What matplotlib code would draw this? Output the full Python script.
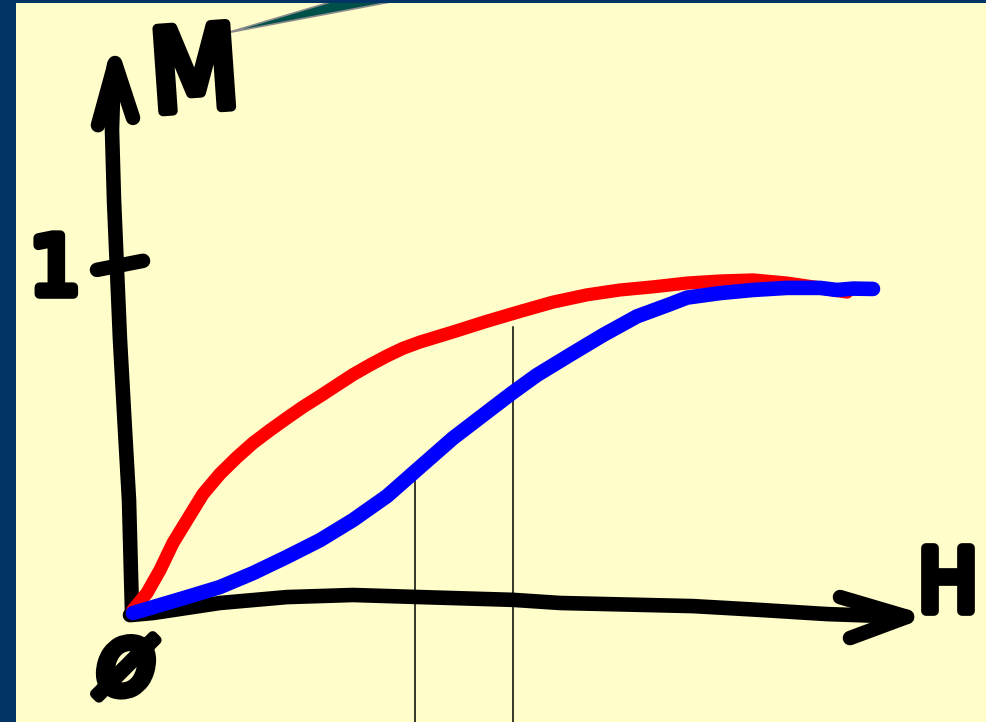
import matplotlib
matplotlib.use("Agg")
import matplotlib.pyplot as plt
import matplotlib.patheffects as pe
from matplotlib.patches import Polygon

# ---- data (H, M units; origin at 0, M = 1 at the tick) ----
red_H = [0.03, 0.17, 0.30, 0.43, 0.57, 0.73, 0.90, 1.07, 1.23, 1.40, 1.57, 1.73, 1.90, 2.07, 2.23, 2.40,
         2.57, 2.73, 2.90, 3.23, 3.57, 3.90, 4.23, 4.57, 4.90, 5.23, 5.57, 5.90, 6.23, 6.57, 6.90, 7.17]
red_M = [0.006, 0.055, 0.121, 0.199, 0.265, 0.340, 0.398, 0.446, 0.487, 0.524, 0.559, 0.591, 0.622, 0.654,
         0.684, 0.712, 0.738, 0.760, 0.778, 0.807, 0.838, 0.866, 0.893, 0.914, 0.928, 0.937, 0.948, 0.954,
         0.957, 0.948, 0.934, 0.922]

blue_H = [0.03, 0.23, 0.57, 0.90, 1.23, 1.57, 1.90, 2.23, 2.57, 2.87, 3.23, 3.57, 3.82, 4.07, 4.40,
          4.73, 5.07, 5.40, 5.57, 5.90, 6.23, 6.57, 6.90, 7.07, 7.23, 7.43]
blue_M = [-0.003, 0.014, 0.043, 0.072, 0.112, 0.159, 0.207, 0.265, 0.334, 0.410, 0.501, 0.576, 0.631,
          0.683, 0.741, 0.798, 0.852, 0.887, 0.906, 0.919, 0.928, 0.934, 0.934, 0.928, 0.932, 0.931]

xaxis_H = [0.0, 0.23, 0.90, 1.57, 2.23, 2.90, 3.83, 4.30, 5.63, 6.30, 6.97, 7.77]
xaxis_M = [-0.009, -0.003, 0.026, 0.043, 0.049, 0.043, 0.035, 0.026, 0.017, 0.006, -0.006, -0.014]
xarrow_H = [7.10, 7.77, 7.20]
xarrow_M = [0.043, -0.014, -0.075]

yaxis_H = [0.02, -0.01, -0.05, -0.10, -0.13, -0.16, -0.18, -0.16]
yaxis_M = [0.0, 0.323, 0.524, 0.784, 0.986, 1.187, 1.389, 1.576]
yarrow_H = [-0.32, -0.15, 0.03]
yarrow_M = [1.403, 1.582, 1.424]

tick_H = [-0.33, 0.13]
tick_M = [0.986, 1.012]

guide_H = [2.85, 3.83]
guide_top = [0.418, 0.821]

callout_H = [0.97, 2.74, 3.76]
callout_M = [1.669, 1.821, 1.821]

NAVY = "#033466"
CREAM = "#FFFDC9"

fig = plt.figure(figsize=(9.87, 7.22), dpi=100)
fig.patch.set_facecolor(NAVY)
ax = fig.add_axes([16 / 987, 0, 971 / 987, 719 / 722])
ax.set_facecolor(CREAM)
ax.set_xlim((16 - 130) / 100, (987 - 130) / 100)
ax.set_ylim((612 - 722) / 347, (612 - 3) / 347)
for s in ax.spines.values():
    s.set_visible(False)
ax.set_xticks([])
ax.set_yticks([])

kw = dict(solid_capstyle="round", solid_joinstyle="round")

# thin guide lines
for h, top in zip(guide_H, guide_top):
    ax.plot([h, h], [top, -0.4], color="black", lw=1.1, zorder=2)

# axes (hand drawn)
LW_AX = 10.5
ax.plot(xaxis_H, xaxis_M, color="black", lw=LW_AX, zorder=3, **kw)
ax.plot(xarrow_H, xarrow_M, color="black", lw=LW_AX, zorder=3, **kw)
ax.plot(yaxis_H, yaxis_M, color="black", lw=LW_AX, zorder=3, **kw)
ax.plot(yarrow_H, yarrow_M, color="black", lw=LW_AX, zorder=3, **kw)
ax.plot(tick_H, tick_M, color="black", lw=LW_AX, zorder=3, **kw)

# curves
ax.plot(red_H, red_M, color="#FF0000", lw=9.5, zorder=4, **kw)
ax.plot(blue_H, blue_M, color="#0000FF", lw=10.5, zorder=5, **kw)

# callout triangle
ax.add_patch(Polygon(list(zip(callout_H, callout_M)), closed=True,
                     facecolor="#00504A", edgecolor="#8A8A8A", lw=1.2, zorder=6))

stroke = [pe.withStroke(linewidth=7, foreground="black", capstyle="round", joinstyle="round")]
fam = ["Liberation Sans Narrow", "DejaVu Sans"]
ax.text(0.65, 1.54, "M", fontsize=82, family=fam, fontstretch="condensed",
        ha="center", va="center", rotation=4, color="black", path_effects=stroke, zorder=7)
ax.text(8.18, 0.072, "H", fontsize=62, family=fam, fontstretch="condensed",
        ha="center", va="center", color="black", path_effects=stroke, zorder=7)
ax.text(-0.75, 0.98, "1", fontsize=58, family=fam,
        ha="center", va="center", color="black", path_effects=stroke, zorder=7)
ax.text(-0.04, -0.158, "ø", fontsize=70, family=fam, style="italic",
        ha="center", va="center", color="black", path_effects=stroke, zorder=7)

fig.savefig("out.png", dpi=100, facecolor=NAVY)
